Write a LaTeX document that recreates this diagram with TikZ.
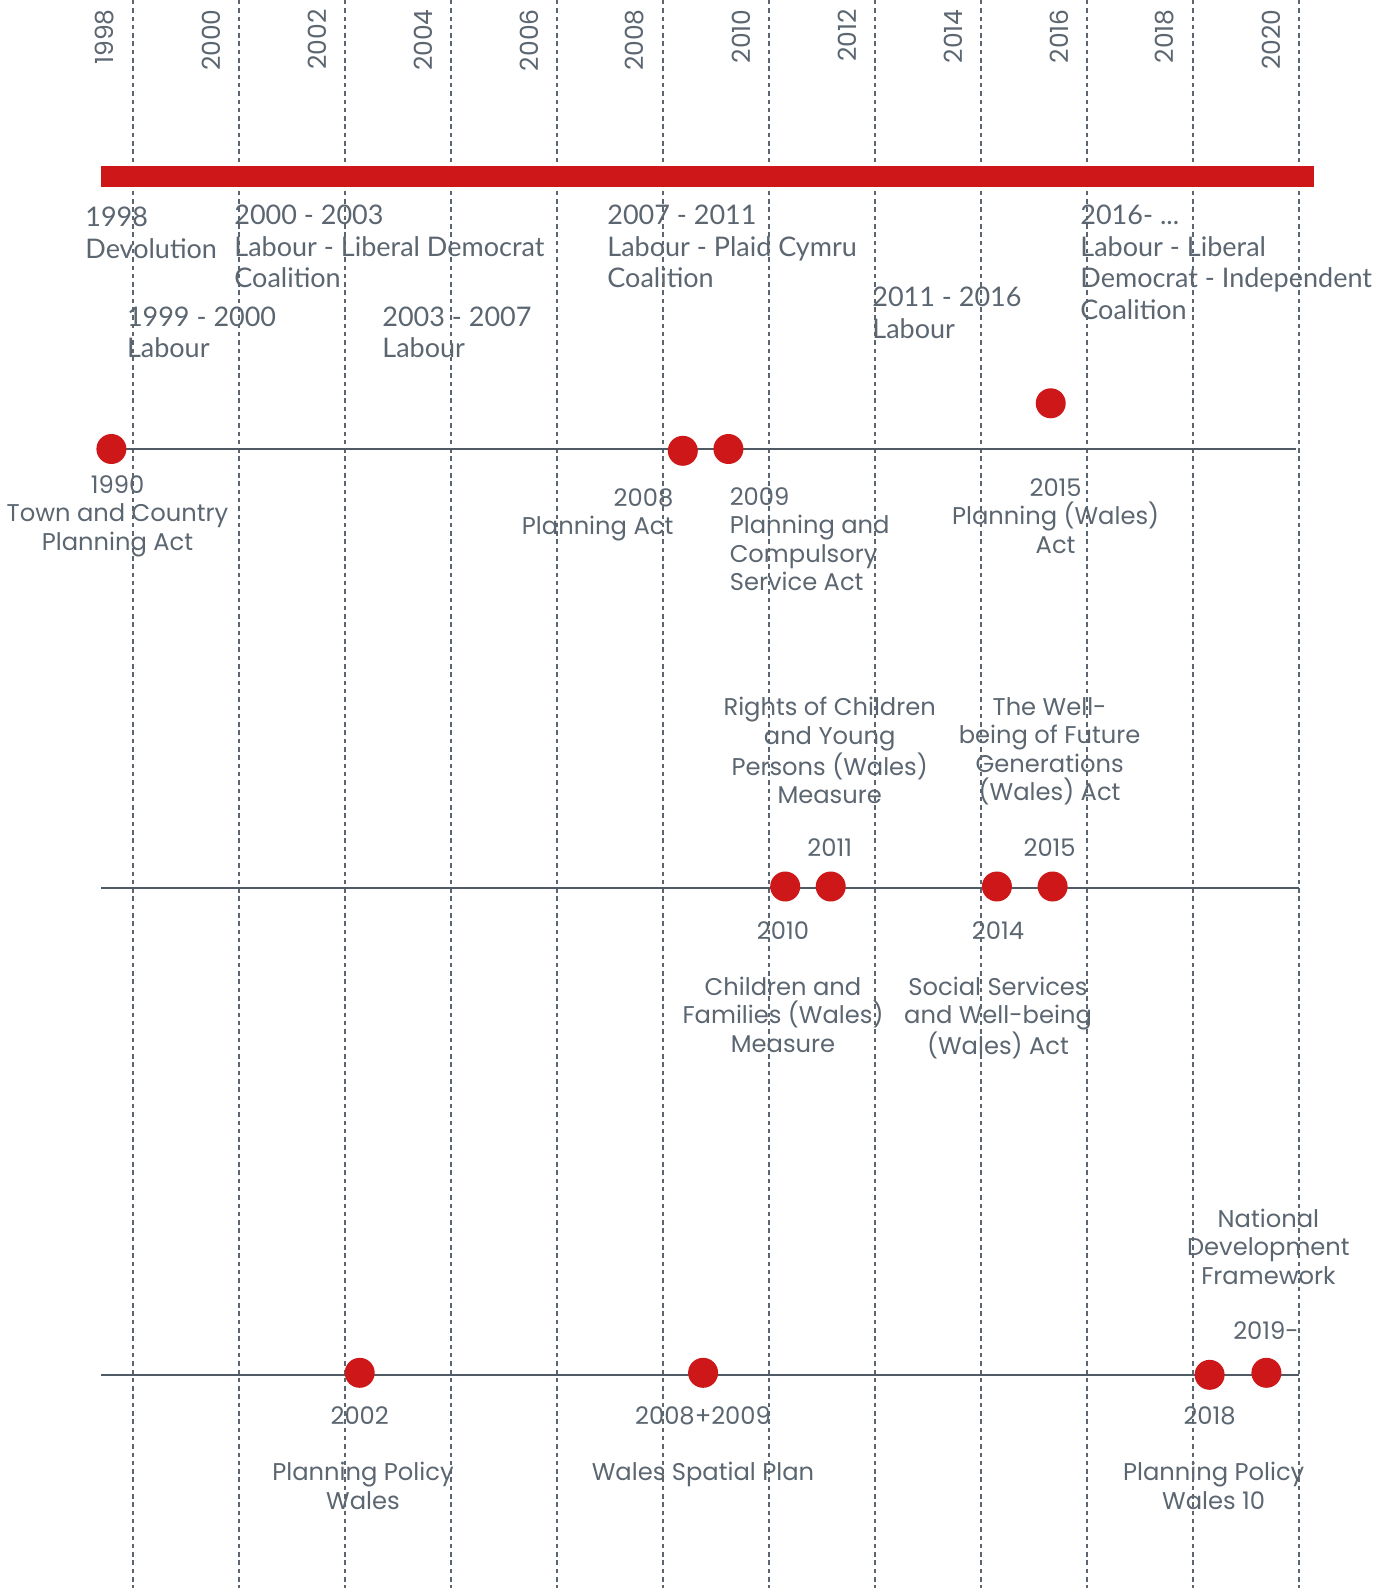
\documentclass[tikz,border=0pt]{standalone}
\usepackage{fontspec}
\setmainfont{Poppins}
\newfontfamily\narrowfont{Lato}
\definecolor{my red}{HTML}{CD1719}
\definecolor{my grey}{HTML}{5B6671}
\definecolor{my line}{HTML}{505A64}
\tikzset{
    yearline/.style = {my grey, line width=0.6pt, dash pattern=on 2.25pt off 1.9pt},
    timeline/.style = {my line, line width=1pt},
    event/.style = {circle, fill=my red, minimum size=15pt, inner sep=0pt},
    yearlab/.style = {text=my grey, font=\fontsize{12.5}{14}\selectfont, rotate=90, anchor=east, inner sep=0pt},
    govlab/.style = {text=my grey, font=\narrowfont\fontsize{13.5}{15.7}\selectfont, align=left, anchor=north west, inner sep=0pt},
    actlab/.style = {text=my grey, font=\fontsize{12.1}{14.2}\selectfont, align=center, anchor=north, inner sep=0pt}
}

\begin{document}
\begin{tikzpicture}[x=0.5pt, y=-0.5pt]
    \useasboundingbox (0, 0) rectangle (1393, 1588);
    % years
    \foreach \i in {0,...,11} {
        \pgfmathsetmacro{\xx}{133 + 106*\i}
        \pgfmathtruncatemacro{\yr}{1998 + 2*\i}
        \draw [yearline] (\xx, 0) -- (\xx, 1588);
        \node [yearlab] (year\yr) at (\xx - 28, 9) {\yr};
    }
    % governments
    \fill [my red] (101, 166) rectangle (1314, 187.5);
    \node [govlab] (gov1998) at (85, 207) {1998\\Devolution};
    \node [govlab] (gov2000) at (234, 205) {2000 - 2003\\Labour - Liberal Democrat\\Coalition};
    \node [govlab] (gov1999) at (126.6, 306.5) {1999 - 2000\\Labour};
    \node [govlab] (gov2003) at (382, 306.5) {2003 - 2007\\Labour};
    \node [govlab] (gov2007) at (607, 205) {2007 - 2011\\Labour - Plaid Cymru\\Coalition};
    \node [govlab] (gov2011) at (872, 287) {2011 - 2016\\Labour};
    \node [govlab] (gov2016) at (1080, 205) {2016- ...\\Labour - Liberal\\Democrat - Independent\\Coalition};
    % planning acts
    \coordinate (acts start) at (111.4, 449);
    \coordinate (acts end) at (1296, 449);
    \draw [timeline] (acts start) -- (acts end);
    \node [event] (act1990) at (acts start) {};
    \node [event] (act2008) at (682.8, 450.8) {};
    \node [event] (act2009) at (728.4, 449) {};
    \node [event] (act2015) at (1050.7, 403.3) {};
    \node [actlab] (lab1990) at (117.5, 475) {1990\\Town and Country\\Planning Act};
    \node [actlab, align=right, anchor=north east] (lab2008) at (673.7, 488) {2008\\Planning Act};
    \node [actlab, align=left, anchor=north west] (lab2009) at (729.4, 487) {2009\\Planning and\\Compulsory\\Service Act};
    \node [actlab] (lab2015) at (1055.6, 478) {2015\\Planning (Wales)\\Act};
    % wellbeing
    \coordinate (well start) at (101, 887.5);
    \coordinate (well end) at (1299, 887.5);
    \draw [timeline] (well start) -- (well end);
    \node [event] (well2010) at (785.2, 886.5) {};
    \node [event] (well2011) at (830.7, 886.5) {};
    \node [event] (well2014) at (996.9, 886.5) {};
    \node [event] (well2015) at (1052.6, 886.5) {};
    \node [actlab] (rights) at (829.7, 697) {Rights of Children\\and Young\\Persons (Wales)\\Measure};
    \node [actlab] (future) at (1049.6, 697) {The Well-\\being of Future\\Generations\\(Wales) Act};
    \node [actlab] (yr2011) at (829.7, 838) {2011};
    \node [actlab] (yr2015) at (1049.6, 838) {2015};
    \node [actlab] (yr2010) at (783, 921) {2010};
    \node [actlab] (yr2014) at (998, 921) {2014};
    \node [actlab] (families) at (783, 976.5) {Children and\\Families (Wales)\\Measure};
    \node [actlab] (social) at (998, 976.5) {Social Services\\and Well-being\\(Wales) Act};
    % policy
    \coordinate (pol start) at (101, 1375);
    \coordinate (pol end) at (1299, 1375);
    \draw [timeline] (pol start) -- (pol end);
    \node [event] (pol2002) at (359.7, 1372.8) {};
    \node [event] (pol2008) at (703.1, 1372.8) {};
    \node [event] (pol2018) at (1209.6, 1374.8) {};
    \node [event] (pol2019) at (1266.4, 1372.8) {};
    \node [actlab] (ndf) at (1268.4, 1208.5) {National\\Development\\Framework};
    \node [actlab] (yr2019) at (1266, 1321) {2019-};
    \node [actlab] (yr2002) at (359.7, 1406) {2002};
    \node [actlab] (yr2008) at (703, 1406) {2008+2009};
    \node [actlab] (yr2018) at (1209.6, 1406) {2018};
    \node [actlab] (ppw) at (363, 1462) {Planning Policy\\Wales};
    \node [actlab] (wsp) at (703, 1462) {Wales Spatial Plan};
    \node [actlab] (ppw10) at (1213.7, 1462) {Planning Policy\\Wales 10};
\end{tikzpicture}
\end{document}
